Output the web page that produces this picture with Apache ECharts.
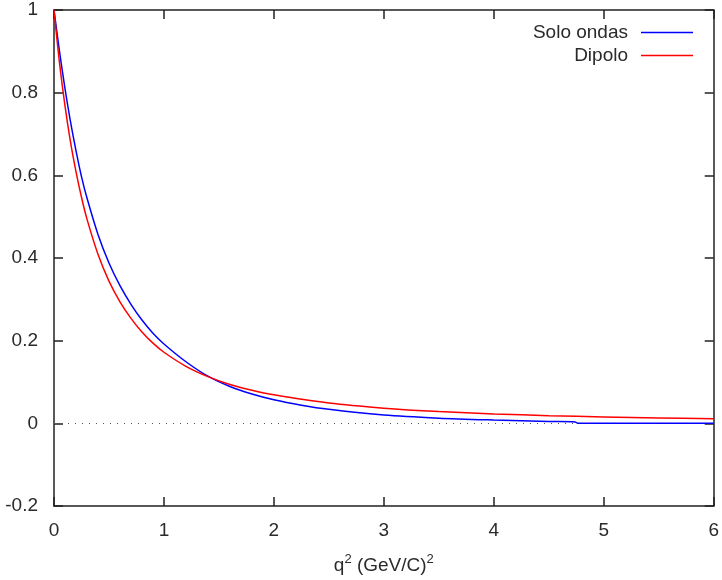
<!DOCTYPE html>
<html>
<head>
<meta charset="utf-8">
<script src="https://cdn.jsdelivr.net/npm/echarts@6/dist/echarts.min.js"></script>
<style>html,body{margin:0;padding:0;background:#fff}#c{width:722px;height:580px}</style>
</head>
<body>
<div id="c"></div>
<script>
// q^2 values (GeV/C)^2
const qSolo = [0, 0.05, 0.1, 0.15, 0.2, 0.25, 0.3, 0.4, 0.5, 0.6, 0.7, 0.8, 0.9, 1.0, 1.2, 1.4, 1.6, 1.8, 2.0, 2.25, 2.5, 3.0, 3.5, 4.0, 4.5, 4.74, 4.76, 5.0, 5.5, 6.0];
const soloOndas = [1.0, 0.90, 0.81, 0.73, 0.66, 0.597, 0.545, 0.457, 0.388, 0.333, 0.288, 0.250, 0.218, 0.192, 0.149, 0.114, 0.089, 0.071, 0.057, 0.044, 0.034, 0.020, 0.0125, 0.008, 0.0045, 0.0035, 0.0005, 0.0, 0.0, 0.0];
const qDip = [0, 0.05, 0.1, 0.15, 0.2, 0.25, 0.3, 0.4, 0.5, 0.6, 0.7, 0.8, 0.9, 1.0, 1.2, 1.4, 1.6, 1.8, 2.0, 2.5, 3.0, 3.5, 4.0, 4.5, 5.0, 5.5, 6.0];
const dipolo = [1.0, 0.872, 0.768, 0.681, 0.609, 0.547, 0.494, 0.409, 0.344, 0.294, 0.254, 0.221, 0.194, 0.172, 0.138, 0.113, 0.094, 0.080, 0.069, 0.049, 0.0366, 0.0284, 0.0227, 0.0186, 0.0155, 0.0131, 0.0112];
const seriesNames = ['Solo ondas', 'Dipolo'];
const xTitleParts = ['q', '2', ' (GeV/C)', '2'];

const pairs = (xs, ys) => xs.map((x, i) => [x, ys[i]]);
const font = '"Liberation Sans", Arial, sans-serif';
const fs = 19;
const axisCol = '#222';
const txtCol = '#2a2a2a';
const common = {
  axisLine: { show: true, onZero: false, lineStyle: { color: axisCol, width: 1.5 } },
  axisTick: { show: true, inside: true, length: 9, lineStyle: { color: axisCol, width: 1.5 } },
  splitLine: { show: false }
};
const chart = echarts.init(document.getElementById('c'), null, { renderer: 'canvas' });
chart.setOption({
  animation: false,
  backgroundColor: '#fff',
  textStyle: { fontFamily: font },
  grid: { left: 54, right: 8, top: 10, bottom: 74 },
  legend: {
    orient: 'vertical', right: 29, top: 23, align: 'right', padding: 0,
    icon: 'rect', itemWidth: 52, itemHeight: 1.5, itemGap: 4,
    textStyle: { fontFamily: font, fontSize: fs, color: txtCol, padding: [0, 8, 0, 0], lineHeight: 19 },
    data: seriesNames
  },
  xAxis: [
    Object.assign({ type: 'value', min: 0, max: 6, interval: 1, position: 'bottom',
      name: '{n|' + xTitleParts[0] + '}{s|' + xTitleParts[1] + '}{n|' + xTitleParts[2] + '}{s|' + xTitleParts[3] + '}',
      nameLocation: 'middle', nameGap: 44,
      nameTextStyle: { fontFamily: font, fontSize: fs, color: txtCol,
        rich: {
          n: { fontFamily: font, fontSize: fs, color: txtCol, padding: [6, 0, 0, 0] },
          s: { fontFamily: font, fontSize: 13, color: txtCol, padding: [0, 0, 6, 0] }
        } },
      axisLabel: { margin: 15, fontSize: fs, color: txtCol, fontFamily: font } }, common),
    Object.assign({ type: 'value', min: 0, max: 6, interval: 1, position: 'top',
      axisLabel: { show: false } }, common)
  ],
  yAxis: [
    Object.assign({ type: 'value', min: -0.2, max: 1, interval: 0.2, position: 'left',
      axisLabel: { margin: 16, fontSize: fs, color: txtCol, fontFamily: font } }, common),
    Object.assign({ type: 'value', min: -0.2, max: 1, interval: 0.2, position: 'right',
      axisLabel: { show: false } }, common)
  ],
  series: [
    {
      name: seriesNames[0], type: 'line', symbol: 'none', smooth: 0.3, z: 3,
      data: pairs(qSolo, soloOndas),
      lineStyle: { color: '#0000ff', width: 1.5 }, itemStyle: { color: '#0000ff' },
      markLine: {
        silent: true, symbol: ['none', 'none'], label: { show: false },
        lineStyle: { color: '#555', type: [1, 6], width: 1 },
        data: [{ yAxis: 0 }], z: 1
      }
    },
    {
      name: seriesNames[1], type: 'line', symbol: 'none', smooth: 0.3, z: 4,
      data: pairs(qDip, dipolo),
      lineStyle: { color: '#ff0000', width: 1.5 }, itemStyle: { color: '#ff0000' }
    }
  ]
});
</script>
</body>
</html>
